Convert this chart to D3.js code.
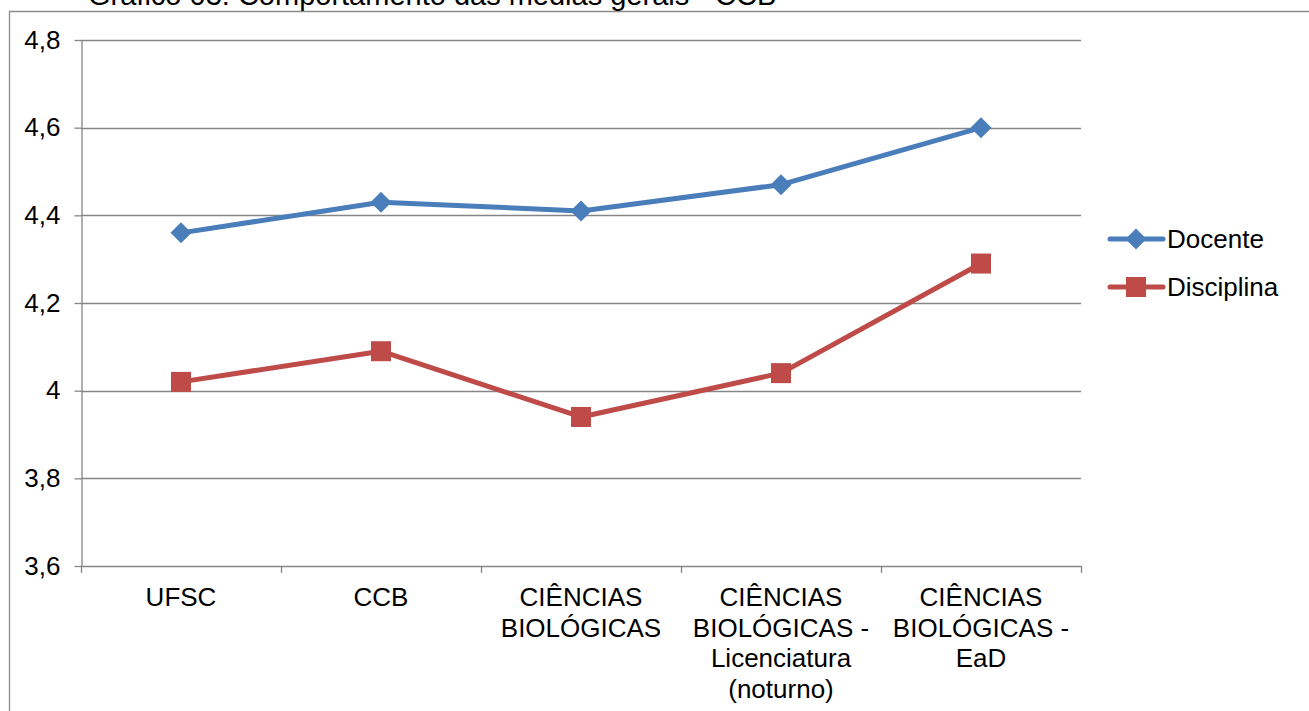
<!DOCTYPE html>
<html><head><meta charset="utf-8">
<script src="https://cdn.jsdelivr.net/npm/d3@7"></script>
<style>body{margin:0;background:#fff;overflow:hidden}svg{display:block;font-family:Arial,"Liberation Sans",sans-serif}</style>
</head><body>
<script>
const title = "Gráfico 03: Comportamento das médias gerais - CCB";
const categories = [["UFSC"],["CCB"],["CIÊNCIAS","BIOLÓGICAS"],["CIÊNCIAS","BIOLÓGICAS -","Licenciatura","(noturno)"],["CIÊNCIAS","BIOLÓGICAS -","EaD"]];
const docente = [4.36, 4.43, 4.41, 4.47, 4.60];
const disciplina = [4.02, 4.09, 3.94, 4.04, 4.29];
const yTicks = [3.6, 3.8, 4.0, 4.2, 4.4, 4.6, 4.8];
const seriesNames = ["Docente", "Disciplina"];
const colors = ["#4a7ebb", "#be4b48"];

const W = 1309, H = 711;
const FS = 26;
const svg = d3.select("body").append("svg").attr("width", W).attr("height", H);

// outer frame
svg.append("path").attr("d", `M9.5,${H} V11.5 H${W}`).attr("fill","none").attr("stroke","#8c8c8c").attr("stroke-width",1.3);
svg.append("text").attr("x", 88).attr("y", 5).attr("font-size", 29).attr("fill","#000").text(title);

const x0 = 81, x1 = 1081, yTop = 40, yBot = 566;
const x = d3.scaleBand().domain(d3.range(categories.length)).range([x0, x1]);
const y = d3.scaleLinear().domain([3.6, 4.8]).range([yBot, yTop]);
const fmt = v => (Math.abs(v - Math.round(v)) < 1e-9 ? String(Math.round(v)) : v.toFixed(1).replace(".", ","));

// gridlines
svg.append("g").selectAll("line").data(yTicks.slice(1)).join("line")
  .attr("x1", x0).attr("x2", x1).attr("y1", d => Math.round(y(d))+0.5).attr("y2", d => Math.round(y(d))+0.5)
  .attr("stroke", "#868686").attr("stroke-width", 1.3);

// y axis
const yAxis = svg.append("g").attr("transform", `translate(${x0+0.5},0)`)
  .call(d3.axisLeft(y).tickValues(yTicks).tickFormat(fmt).tickSize(7).tickSizeOuter(0).tickPadding(14));
yAxis.select(".domain").attr("stroke", "#868686").attr("stroke-width", 1.3);
yAxis.selectAll(".tick line").attr("stroke", "#868686").attr("stroke-width", 1.3);
yAxis.selectAll(".tick text").attr("font-size", FS).attr("fill", "#000").attr("font-family","Arial,'Liberation Sans',sans-serif");

// x axis
const xb = svg.append("g");
xb.append("line").attr("x1", x0).attr("x2", x1).attr("y1", yBot+0.5).attr("y2", yBot+0.5).attr("stroke","#868686").attr("stroke-width",1.3);
const bounds = d3.range(categories.length+1).map(i => x0 + i*x.bandwidth());
xb.selectAll("line.t").data(bounds).join("line").attr("class","t")
  .attr("x1", d => d+0.5).attr("x2", d => d+0.5).attr("y1", yBot).attr("y2", yBot+7)
  .attr("stroke","#868686").attr("stroke-width",1.3);
const labels = xb.selectAll("text.c").data(categories).join("text").attr("class","c")
  .attr("text-anchor","middle").attr("font-size",FS).attr("fill","#000");
labels.each(function(lines, i){
  d3.select(this).selectAll("tspan").data(lines).join("tspan")
    .attr("x", x(i) + x.bandwidth()/2).attr("y", (d, j) => 606 + j*30.5).text(d => d);
});

const cx = i => x(i) + x.bandwidth()/2;
const line = d3.line().x((d,i) => cx(i)).y(d => y(d));
const data = [docente, disciplina];
data.forEach((s, k) => {
  svg.append("path").datum(s).attr("d", line).attr("fill","none").attr("stroke", colors[k]).attr("stroke-width", 5).attr("stroke-linejoin","round");
});
// markers
const diamond = (cxv, cyv, r) => `M${cxv},${cyv-r} L${cxv+r},${cyv} L${cxv},${cyv+r} L${cxv-r},${cyv} Z`;
svg.append("g").selectAll("path").data(docente).join("path")
  .attr("d", (d,i) => diamond(cx(i), y(d), 10.5)).attr("fill", colors[0]);
svg.append("g").selectAll("rect").data(disciplina).join("rect")
  .attr("x", (d,i) => cx(i)-10).attr("y", d => y(d)-10).attr("width",20).attr("height",20).attr("fill", colors[1]);

// legend
const lg = svg.append("g");
seriesNames.forEach((n, k) => {
  const ly = 239 + k*48, lx0 = 1110, lx1 = 1163, mx = 1136;
  lg.append("line").attr("x1", lx0).attr("x2", lx1).attr("y1", ly).attr("y2", ly).attr("stroke", colors[k]).attr("stroke-width",5).attr("stroke-linecap","round");
  if (k === 0) lg.append("path").attr("d", diamond(mx, ly, 10.5)).attr("fill", colors[k]);
  else lg.append("rect").attr("x", mx-10).attr("y", ly-10).attr("width",20).attr("height",20).attr("fill", colors[k]);
  lg.append("text").attr("x", 1167).attr("y", ly+9).attr("font-size",FS).attr("fill","#000").text(n);
});
</script>
</body></html>
